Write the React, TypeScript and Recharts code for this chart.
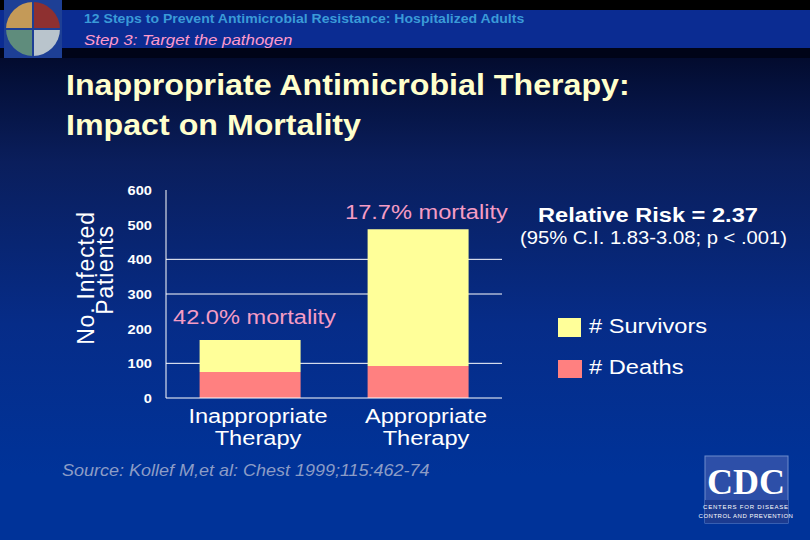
import { BarChart, Bar, XAxis, YAxis, CartesianGrid } from "recharts"

const categories = ["Inappropriate Therapy", "Appropriate Therapy"]
const deaths = [75, 92]
const survivors = [92, 395]
const mortality = ["42.0% mortality", "17.7% mortality"]
const yTicks = [0, 100, 200, 300, 400, 500, 600]
const gridValues = [100, 300, 400]

const data = categories.map((name, i) => ({
  name,
  deaths: deaths[i],
  survivors: survivors[i],
}))

const FONT = "Arial, 'Liberation Sans', Helvetica, sans-serif"
// slide was stretched from 4:3 to 810x540
const SX = 1.125

const YTick = ({ x, y, payload }: any) => (
  <g transform={`translate(${x},${y + 5}) scale(${SX},1)`}>
    <text textAnchor="end" fill="#ffffff" fontSize={13} fontWeight="bold" fontFamily={FONT}>
      {payload.value}
    </text>
  </g>
)

const XTick = ({ x, y, payload }: any) => {
  const lines = String(payload.value).split(" ")
  return (
    <g transform={`translate(${x + 8},${y}) scale(${SX},1)`}>
      {lines.map((l, i) => (
        <text key={i} y={17 + i * 22} textAnchor="middle" fill="#ffffff" fontSize={21} fontFamily={FONT}>
          {l}
        </text>
      ))}
    </g>
  )
}

// skip any grid line sitting on the top edge of the plot
const GridLine = (p: any) =>
  p.y1 <= p.y + 1 ? <g key={p.key} /> : (
    <line key={p.key} x1={p.x1} y1={p.y1} x2={p.x2} y2={p.y2} stroke="#ffffff" strokeWidth={1} />
  )

const T = ({ x, y, size, children, ...rest }: any) => (
  <g transform={`translate(${x},${y}) scale(${SX},1)`}>
    <text fontSize={size} fontFamily={FONT} {...rest}>
      {children}
    </text>
  </g>
)

export default function App() {
  return (
    <div
      style={{
        position: "absolute",
        left: 0,
        top: 0,
        width: 810,
        height: 540,
        overflow: "hidden",
        background:
          "linear-gradient(180deg, #000010 0%, #04103a 15%, #0a1e5c 30%, #062c88 60%, #003399 88%, #003399 100%)",
      }}
    >
      <div style={{ position: "absolute", left: 0, top: 0 }}>
        <BarChart
          width={810}
          height={540}
          data={data}
          margin={{ top: 190, right: 308, bottom: 82, left: 106 }}
          barCategoryGap="20%"
        >
          <CartesianGrid
            vertical={false}
            horizontal={GridLine}
            horizontalValues={gridValues}
            stroke="#ffffff"
            strokeWidth={1}
          />
          <XAxis
            dataKey="name"
            height={60}
            axisLine={{ stroke: "#ffffff", strokeWidth: 1 }}
            tickLine={false}
            tick={<XTick />}
            interval={0}
          />
          <YAxis
            width={60}
            domain={[0, 600]}
            ticks={yTicks}
            axisLine={{ stroke: "#ffffff", strokeWidth: 1 }}
            tickLine={false}
            tickMargin={8}
            tick={<YTick />}
          />
          <Bar dataKey="deaths" stackId="a" fill="#ff8080" isAnimationActive={false} />
          <Bar dataKey="survivors" stackId="a" fill="#ffff99" isAnimationActive={false} />
        </BarChart>
      </div>

      <svg width={810} height={540} style={{ position: "absolute", left: 0, top: 0, pointerEvents: "none" }}>
        {/* header band */}
        <rect x={0} y={0} width={810} height={10} fill="#000000" />
        <rect x={0} y={10} width={810} height={38} fill="#0b2c92" />
        <rect x={0} y={48} width={810} height={10} fill="#000418" />

        {/* logo */}
        <rect x={4} y={0} width={58} height={58} fill="#1d3f95" />
        <path d="M33 29 L33 2 A27 27 0 0 0 6 29 Z" fill="#c49a58" />
        <path d="M33 29 L60 29 A27 27 0 0 0 33 2 Z" fill="#8e3030" />
        <path d="M33 29 L6 29 A27 27 0 0 0 33 56 Z" fill="#5f8c7c" />
        <path d="M33 29 L33 56 A27 27 0 0 0 60 29 Z" fill="#b9c4cc" />
        <line x1={6} y1={29} x2={60} y2={29} stroke="#1d3f95" strokeWidth={2} />
        <line x1={33} y1={2} x2={33} y2={56} stroke="#1d3f95" strokeWidth={2} />

        <T x={84} y={23} size={12.5} fontWeight="bold" fill="#3a9ad8">
          12 Steps to Prevent Antimicrobial Resistance: Hospitalized Adults
        </T>
        <T x={84} y={45} size={15} fontStyle="italic" fill="#ff9acb">
          Step 3: Target the pathogen
        </T>

        <T x={66} y={95} size={28.6} fontWeight="bold" fill="#ffffcc">
          Inappropriate Antimicrobial Therapy:
        </T>
        <T x={66} y={135} size={28.6} fontWeight="bold" fill="#ffffcc">
          Impact on Mortality
        </T>

        {/* y axis title */}
        <text
          transform="translate(94,278) rotate(-90)"
          textAnchor="middle"
          fill="#ffffff"
          fontSize={23}
          letterSpacing={0.8}
          fontFamily={FONT}
        >
          No. Infected
        </text>
        <text
          transform="translate(113,270) rotate(-90)"
          textAnchor="middle"
          fill="#ffffff"
          fontSize={23}
          letterSpacing={0.8}
          fontFamily={FONT}
        >
          Patients
        </text>

        <T x={173} y={324} size={21} fill="#f59cc4">
          {mortality[0]}
        </T>
        <T x={345} y={219} size={21} fill="#f59cc4">
          {mortality[1]}
        </T>

        <T x={538} y={222} size={21} fontWeight="bold" fill="#ffffff">
          Relative Risk = 2.37
        </T>
        <T x={520} y={244} size={18} fill="#ffffff">
          (95% C.I. 1.83-3.08; p &lt; .001)
        </T>

        {/* legend */}
        <rect x={558} y={318} width={23} height={19} fill="#ffff99" />
        <T x={589} y={333} size={21} fill="#ffffff">
          # Survivors
        </T>
        <rect x={558} y={360} width={24} height={18} fill="#ff8080" />
        <T x={589} y={374} size={21} fill="#ffffff">
          # Deaths
        </T>

        <T x={62} y={476} size={16} fontStyle="italic" fill="#8c9cc6">
          Source: Kollef M,et al: Chest 1999;115:462-74
        </T>

        {/* CDC logo */}
        <rect x={705} y={456} width={83} height={67} fill="#2d4fa8" stroke="#6f8ccc" strokeWidth={1} />
        <rect x={705} y={500} width={83} height={23} fill="#1c3b90" />
        <text x={746} y={494} textAnchor="middle" fill="#ffffff" fontSize={36} fontWeight="bold" fontFamily="'Liberation Serif', 'DejaVu Serif', serif">
          CDC
        </text>
        <text x={746} y={509} textAnchor="middle" fill="#ffffff" fontSize={6} letterSpacing={0.8} fontFamily={FONT}>
          CENTERS FOR DISEASE
        </text>
        <text x={746} y={518} textAnchor="middle" fill="#ffffff" fontSize={6} letterSpacing={0.5} fontFamily={FONT}>
          CONTROL AND PREVENTION
        </text>
      </svg>
    </div>
  )
}
